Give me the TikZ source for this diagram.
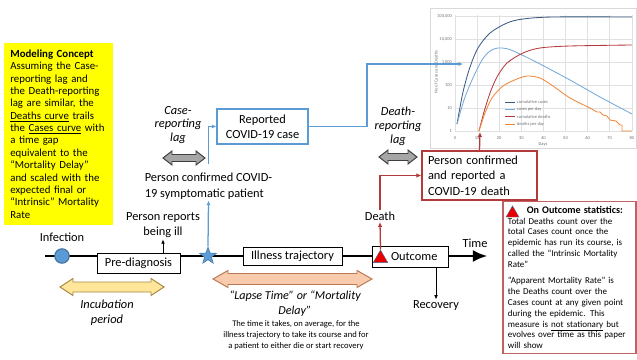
\documentclass[tikz,border=0pt]{standalone}
\usepackage{fontspec}
\setmainfont{Carlito}
\usetikzlibrary{arrows.meta,positioning,shapes.geometric}

\definecolor{cblue}{HTML}{5B9BD5}
\definecolor{cdark}{HTML}{41719C}
\definecolor{cred}{HTML}{B33A3A}
\definecolor{conceptyellow}{HTML}{FFFF00}
\definecolor{incfill}{HTML}{FFE699}
\definecolor{incdraw}{HTML}{A58B45}
\definecolor{lapsefill}{HTML}{F8CBAD}
\definecolor{lapsedraw}{HTML}{B97A55}
\definecolor{lagfill}{HTML}{A6A6A6}
\definecolor{lagdraw}{HTML}{3F3F3F}
\definecolor{cumcases}{HTML}{3B5B84}
\definecolor{daycases}{HTML}{74AADB}
\definecolor{cumdeaths}{HTML}{B5393A}
\definecolor{daydeaths}{HTML}{F0883A}

\begin{document}
\begin{tikzpicture}[x=0.025cm, y=-0.025cm, >=Latex,
 font=\fontsize{8.8}{11}\selectfont,
 box/.style={draw, fill=white, line width=.6pt, inner sep=1pt},
 bluebox/.style={draw=cblue, line width=.9pt, fill=white, align=center,
 minimum width=2.28cm, minimum height=.875cm, inner sep=1pt},
 redbox/.style={draw=cred, line width=.9pt, fill=white, align=left},
 lbl/.style={align=center, inner sep=1pt},
 lag/.style={align=center, inner sep=1pt, font=\fontsize{8.8}{9.8}\selectfont\itshape},
 edge/.style={-{Latex[length=3pt,width=2.6pt]}, line width=.45pt},
 blueedge/.style={-{Latex[length=3.2pt,width=3pt]}, draw=cblue, line width=.9pt},
 rededge/.style={-{Latex[length=3.5pt,width=3.2pt]}, draw=cred, line width=.9pt},
 warn/.style={regular polygon, regular polygon sides=3, fill=red!92!black,
 draw=cdark, line width=.3pt, inner sep=0pt},
 lagarrow/.style={draw=lagdraw, fill=lagfill, line width=.7pt, line join=miter},
 grid/.style={draw=black!12, line width=.3pt},
 tick/.style={font=\fontsize{3.2}{4}\selectfont, text=black!55, inner sep=.5pt},
 curve/.style={line width=.6pt}]
\useasboundingbox (0,0) rectangle (637,360);

% chart of cases and deaths
\draw[black!15, line width=.4pt] (430,8) rectangle (636,148);
\foreach \d in {0,...,8}
 \draw[grid] ({455+22.1*\d},15) -- ({455+22.1*\d},131);
\foreach \k/\v in {0/1,1/10,2/100,3/1{,}000,4/10{,}000,5/100{,}000} {
 \draw[grid] (455,{131-23*\k}) -- (632,{131-23*\k});
 \node[tick, anchor=east] at (453,{131-23*\k}) {\v};
}
\foreach \d in {0,10,...,80}
 \node[tick] at ({455+2.21*\d},138) {\d};
\node[tick] (days) at (543,144) {Days};
\node[tick, rotate=90] (yaxis) at (436,72) {No of Cases and Deaths};
\draw[curve, cumcases] plot[smooth] coordinates {(457,124) (463,92) (470,67) (478,48) (490,33) (507,23) (523,19) (553,17) (632,17)};
\draw[curve, daycases] plot[smooth] coordinates {(457,124) (464,100) (472,80) (482,60) (490,51) (498,48) (508,49) (520,54) (540,64) (570,80) (600,97) (632,114)};
\draw[curve, cumdeaths] plot[smooth] coordinates {(479,131) (484,112) (490,93) (497,77) (507,63) (523,53) (540,48) (570,46) (632,45)};
\draw[curve, daydeaths] plot[smooth] coordinates {(479,131) (485,113) (492,98) (503,86) (517,79) (527,76) (540,78) (553,86) (570,98) (590,108)}
 -- (597,112) -- (600,112) -- (603,115) -- (607,116) -- (610,120) -- (616,121) -- (620,125) -- (622,125) -- (622,131) -- (632,131);
\foreach \c/\t [count=\i from 0] in {cumcases/cumulative cases, daycases/cases per day, cumdeaths/cumulative deaths, daydeaths/deaths per day} {
 \draw[curve, \c] (505,{102+7.4*\i}) -- (515,{102+7.4*\i});
 \node[tick, anchor=west] at (516,{102+7.4*\i}) {\t};
}
\coordinate (chartin) at (463,64);
\coordinate (deathstart) at (480,132);

% time line
\coordinate (tstart) at (45,256);
\coordinate (tend) at (487,256);
\draw[line width=1.4pt, -{Latex[length=10pt,width=8.5pt]}] (tstart) -- (tend);
\node[circle, fill=cblue, draw=cdark, line width=.8pt, minimum size=.36cm, inner sep=0pt] (infdot) at (62,256) {};
\node[lbl] (infection) at (62,237) {Infection};
\node[box, minimum width=2.075cm, minimum height=.5cm] (prediag) at (138.5,263) {Pre-diagnosis};
\node[lbl] (ill) at (163,225) {Person reports\\being ill};
\node[star, star points=5, star point ratio=2.4, fill=cblue, draw=cdark, line width=.3pt,
 minimum size=.45cm, inner sep=0pt] (diagstar) at (208,256) {};
\node[box, minimum width=2.475cm, minimum height=.45cm] (illness) at (292.5,256.5) {Illness trajectory};
\node[box, minimum width=1.9cm, minimum height=.525cm] (outcome) at (410,256.5) {\hspace{6pt}Outcome};
\node[warn, minimum size=.42cm] (outtri) at (380.5,258.4) {};
\node[lbl] (timelbl) at (475,243) {Time};
\node[lbl] (recovery) at (436,306) {Recovery};
\node[lbl] (death) at (380,216) {Death};

% reporting
\node[align=left, inner sep=1pt] (pconf) at (208.5,186) {Person confirmed COVID-\\19 symptomatic patient};
\node[bluebox] (reported) at (262.5,126.5) {Reported\\COVID-19 case};
\node[redbox, minimum width=2.875cm, minimum height=1.225cm, text width=2.875cm-8.6pt, inner xsep=4.3pt] (dconf) at (479.5,175.5) {Person confirmed\\and reported a\\COVID-19 death};
\node[lag] (caselag) at (178,125) {Case-\\reporting\\lag};
\node[lag] (deathlag) at (398,126) {Death-\\reporting\\lag};
\draw[lagarrow] (163,158) -- (172,151) -- (172,154.5) -- (196,154.5) -- (196,151) -- (205,158)
 -- (196,165) -- (196,161.5) -- (172,161.5) -- (172,165) -- cycle;
\draw[lagarrow] (379,157) -- (388,150) -- (388,153.5) -- (408,153.5) -- (408,150) -- (417,157)
 -- (408,164) -- (408,160.5) -- (388,160.5) -- (388,164) -- cycle;

% periods
\draw[draw=incdraw, fill=incfill, line width=.7pt] (60,287) -- (73,278.5) -- (73,282) -- (151,282) -- (151,278.5) -- (164,287)
 -- (151,295.5) -- (151,292) -- (73,292) -- (73,295.5) -- cycle;
\node[lag, font=\fontsize{8.8}{10.5}\selectfont\itshape] (incub) at (107,313) {Incubation\\period};
\draw[draw=lapsedraw, fill=lapsefill, line width=.7pt] (213,279) -- (228,270.5) -- (228,273.5) -- (357,273.5) -- (357,270.5) -- (372,279)
 -- (357,287.5) -- (357,284.5) -- (228,284.5) -- (228,287.5) -- cycle;
\node[lag, font=\fontsize{8.6}{10.5}\selectfont\itshape] (lapse) at (295,304) {“Lapse Time” or “Mortality\\Delay”};
\node[lbl, font=\fontsize{6.1}{7.9}\selectfont] (lapsenote) at (296,335) {The time it takes, on average, for the\\illness trajectory to take its course and for\\a patient to either die or start recovery};

% side notes
\node[fill=conceptyellow, align=left, minimum width=2.725cm, minimum height=4.55cm,
 text width=2.725cm-9pt, inner xsep=4.5pt, font=\fontsize{7.7}{8.8}\selectfont] (concept) at (58.5,134)
 {\textbf{Modeling Concept}\\Assuming the Case-\\reporting lag and\\the Death-reporting\\lag are similar, the\\\underline{Deaths curve} trails\\the \underline{Cases curve} with\\a time gap\\equivalent to the\\“Mortality Delay”\\and scaled with the\\expected final or\\“Intrinsic” Mortality\\Rate};
\node[redbox, draw=cred!80, line width=.8pt, minimum width=3.325cm, minimum height=3.725cm,
 text width=3.325cm-7pt, inner xsep=3.5pt, font=\fontsize{6.4}{7.7}\selectfont] (stats) at (569.5,277.5)
 {\hspace*{13.5pt}{\fontsize{7.2}{7.7}\selectfont\bfseries On Outcome statistics:}\\Total Deaths count over the\\total Cases count once the\\epidemic has run its course, is\\called the “Intrinsic Mortality\\Rate”\\[4pt]“Apparent Mortality Rate” is\\the Deaths count over the\\Cases count at any given point\\during the epidemic. This\\measure is \underline{not stationary} but\\evolves over time as this paper\\will show};
\node[warn, minimum size=.37cm] (statstri) at (512.5,213.3) {};

% connectors
\draw[edge] (ill.south |- prediag.north) -- (ill.south);
\draw[blueedge] (diagstar.north) -- (pconf.south);
\draw[blueedge] ([yshift=5pt]pconf.north) |- (reported.west);
\draw[blueedge] (reported.east) -| (367,64) -- (chartin);
\draw[rededge] (outtri.north) -- (death.south);
\draw[rededge] (death.north) |- (dconf.west);
\draw[rededge] (dconf.north) -- (deathstart);
\draw[edge] (recovery.north |- outcome.south) -- (recovery.north);
\end{tikzpicture}
\end{document}
